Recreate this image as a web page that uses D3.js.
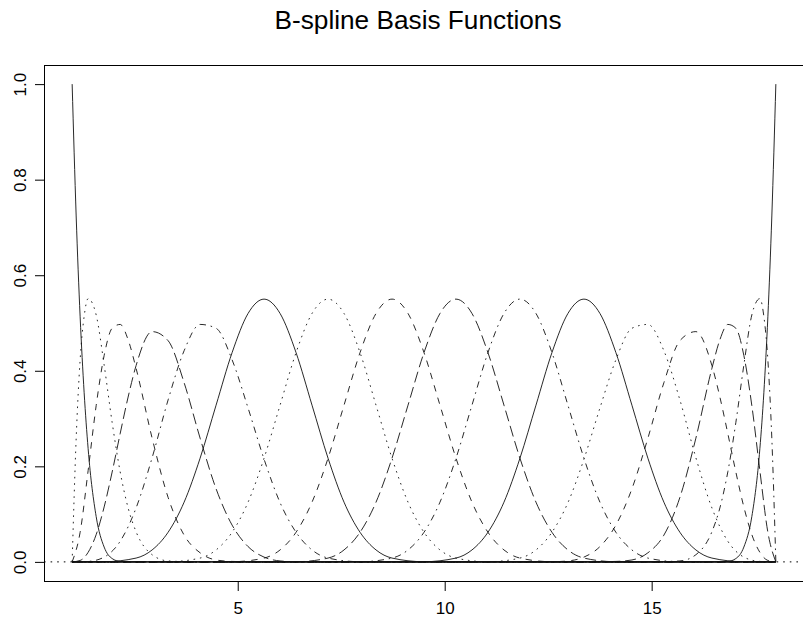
<!DOCTYPE html>
<html>
<head>
<meta charset="utf-8">
<script src="https://cdn.jsdelivr.net/npm/d3@7"></script>
<style>
    body { margin: 0; background: #fff; }
    svg { display: block; }
    text { font-family: "Liberation Sans", Arial, Helvetica, sans-serif; fill: #000; }
</style>
</head>
<body>
<div id="chart"></div>
<script>
// Basis values, one [x, y] list per curve (zero outside its span)
var basis1 = [[1.000, 1.000], [1.097, 0.724], [1.193, 0.513], [1.290, 0.354], [1.386, 0.237], [1.580, 0.095],
    [1.773, 0.031], [1.966, 0.007], [2.159, 0.001], [2.545, 0]];
var basis2 = [[1.000, 0], [1.097, 0.258], [1.193, 0.423], [1.290, 0.514], [1.386, 0.551], [1.580, 0.517],
    [1.773, 0.412], [1.966, 0.292], [2.159, 0.189], [2.352, 0.113], [2.545, 0.063], [2.932, 0.015],
    [3.318, 0.002], [4.091, 0]];
var basis3 = [[1.000, 0], [1.193, 0.062], [1.386, 0.191], [1.580, 0.327], [1.773, 0.432], [1.966, 0.489],
    [2.159, 0.497], [2.352, 0.465], [2.545, 0.405], [2.932, 0.259], [3.318, 0.135], [3.705, 0.056],
    [4.091, 0.019], [4.477, 0.004], [4.864, 0.001], [5.636, 0]];
var basis4 = [[1.000, 0], [1.193, 0.003], [1.386, 0.020], [1.580, 0.057], [1.773, 0.115], [1.966, 0.188],
    [2.159, 0.268], [2.352, 0.345], [2.545, 0.411], [2.932, 0.482], [3.318, 0.463], [3.705, 0.375],
    [4.091, 0.259], [4.477, 0.153], [4.864, 0.077], [5.250, 0.032], [5.636, 0.010], [6.023, 0.002],
    [6.409, 0.0003], [7.182, 0]];
var basis5 = [[1.000, 0], [1.386, 0.001], [1.773, 0.010], [2.159, 0.043], [2.545, 0.113], [2.932, 0.218],
    [3.318, 0.339], [3.705, 0.442], [4.091, 0.497], [4.477, 0.489], [4.864, 0.423], [5.250, 0.322],
    [5.636, 0.215], [6.023, 0.124], [6.409, 0.062], [6.795, 0.025], [7.182, 0.008], [7.955, 0.0003],
    [8.727, 0]];
var basis6 = [[1.000, 0], [1.773, 0.0003], [2.545, 0.008], [2.932, 0.025], [3.318, 0.062], [3.705, 0.125],
    [4.091, 0.217], [4.477, 0.328], [4.864, 0.438], [5.250, 0.520], [5.636, 0.550], [6.023, 0.520],
    [6.409, 0.438], [6.795, 0.328], [7.182, 0.217], [7.568, 0.125], [7.955, 0.062], [8.341, 0.025],
    [8.727, 0.008], [9.500, 0.0003], [10.273, 0]];
var basis7 = [[2.545, 0], [3.318, 0.0003], [4.091, 0.008], [4.477, 0.025], [4.864, 0.062], [5.250, 0.125],
    [5.636, 0.217], [6.023, 0.328], [6.409, 0.438], [6.795, 0.520], [7.182, 0.550], [7.568, 0.520],
    [7.955, 0.438], [8.341, 0.328], [8.727, 0.217], [9.114, 0.125], [9.500, 0.062], [9.886, 0.025],
    [10.273, 0.008], [11.045, 0.0003], [11.818, 0]];
var basis8 = [[4.091, 0], [4.864, 0.0003], [5.636, 0.008], [6.023, 0.025], [6.409, 0.062], [6.795, 0.125],
    [7.182, 0.217], [7.568, 0.328], [7.955, 0.438], [8.341, 0.520], [8.727, 0.550], [9.114, 0.520],
    [9.500, 0.438], [9.886, 0.328], [10.273, 0.217], [10.659, 0.125], [11.045, 0.062], [11.432, 0.025],
    [11.818, 0.008], [12.591, 0.0003], [13.364, 0]];
var basis9 = [[5.636, 0], [6.409, 0.0003], [7.182, 0.008], [7.568, 0.025], [7.955, 0.062], [8.341, 0.125],
    [8.727, 0.217], [9.114, 0.328], [9.500, 0.438], [9.886, 0.520], [10.273, 0.550], [10.659, 0.520],
    [11.045, 0.438], [11.432, 0.328], [11.818, 0.217], [12.205, 0.125], [12.591, 0.062], [12.977, 0.025],
    [13.364, 0.008], [14.136, 0.0003], [14.909, 0]];
var basis10 = [[7.182, 0], [7.955, 0.0003], [8.727, 0.008], [9.114, 0.025], [9.500, 0.062], [9.886, 0.125],
    [10.273, 0.217], [10.659, 0.328], [11.045, 0.438], [11.432, 0.520], [11.818, 0.550], [12.205, 0.520],
    [12.591, 0.438], [12.977, 0.328], [13.364, 0.217], [13.750, 0.125], [14.136, 0.062], [14.523, 0.025],
    [14.909, 0.008], [15.682, 0.0003], [16.455, 0]];
var basis11 = [[8.727, 0], [9.500, 0.0003], [10.273, 0.008], [10.659, 0.025], [11.045, 0.062], [11.432, 0.125],
    [11.818, 0.217], [12.205, 0.328], [12.591, 0.438], [12.977, 0.520], [13.364, 0.550], [13.750, 0.520],
    [14.136, 0.438], [14.523, 0.328], [14.909, 0.217], [15.295, 0.125], [15.682, 0.062], [16.068, 0.025],
    [16.455, 0.008], [17.227, 0.0003], [18.000, 0]];
var basis12 = [[10.273, 0], [11.045, 0.0003], [11.818, 0.008], [12.205, 0.025], [12.591, 0.062], [12.977, 0.124],
    [13.364, 0.215], [13.750, 0.322], [14.136, 0.423], [14.523, 0.489], [14.909, 0.497], [15.295, 0.442],
    [15.682, 0.339], [16.068, 0.218], [16.455, 0.113], [16.841, 0.043], [17.227, 0.010], [17.614, 0.001],
    [18.000, 0]];
var basis13 = [[11.818, 0], [12.591, 0.0003], [12.977, 0.002], [13.364, 0.010], [13.750, 0.032], [14.136, 0.077],
    [14.523, 0.153], [14.909, 0.259], [15.295, 0.375], [15.682, 0.463], [16.068, 0.482], [16.455, 0.411],
    [16.648, 0.345], [16.841, 0.268], [17.034, 0.188], [17.227, 0.115], [17.420, 0.057], [17.614, 0.020],
    [17.807, 0.003], [18.000, 0]];
var basis14 = [[13.364, 0], [14.136, 0.001], [14.523, 0.004], [14.909, 0.019], [15.295, 0.056], [15.682, 0.135],
    [16.068, 0.259], [16.455, 0.405], [16.648, 0.465], [16.841, 0.497], [17.034, 0.489], [17.227, 0.432],
    [17.420, 0.327], [17.614, 0.191], [17.807, 0.062], [18.000, 0]];
var basis15 = [[14.909, 0], [15.682, 0.002], [16.068, 0.015], [16.455, 0.063], [16.648, 0.113], [16.841, 0.189],
    [17.034, 0.292], [17.227, 0.412], [17.420, 0.517], [17.614, 0.551], [17.710, 0.514], [17.807, 0.423],
    [17.903, 0.258], [18.000, 0]];
var basis16 = [[16.455, 0], [16.841, 0.001], [17.034, 0.007], [17.227, 0.031], [17.420, 0.095], [17.614, 0.237],
    [17.710, 0.354], [17.807, 0.513], [17.903, 0.724], [18.000, 1.000]];

var xTicks = [5, 10, 15];
var yTicks = [0, 0.2, 0.4, 0.6, 0.8, 1.0];
var xRange = [1, 18];
var chartTitle = 'B-spline Basis Functions';

// R lty cycle as it shows in the picture: solid, dotted, dashed, long dash, dot-dash
var lineTypes = ['none', '1.6,4.8', '6.4,6.4', '11,4.8', '1.6,4.8,6.4,4.8'];

var bases = [basis1, basis2, basis3, basis4, basis5, basis6, basis7, basis8,
    basis9, basis10, basis11, basis12, basis13, basis14, basis15, basis16];

var width = 803,
    height = 619,
    margin = { left: 44, right: -1, top: 65, bottom: 38 };

var svg = d3.select('#chart').append('svg')
    .attr('width', width)
    .attr('height', height)
    .attr('viewBox', `0 0 ${width} ${height}`);

// R pads each axis range by 4%
var xPad = (xRange[1] - xRange[0]) * 0.04;
var xScale = d3.scaleLinear()
    .domain([xRange[0] - xPad, xRange[1] + xPad])
    .range([margin.left, width - margin.right]);
var yScale = d3.scaleLinear()
    .domain([-0.04, 1.04])
    .range([height - margin.bottom, margin.top]);

// Title
svg.append('text')
    .attr('x', 418)
    .attr('y', 29)
    .attr('text-anchor', 'middle')
    .attr('textLength', 287)
    .attr('lengthAdjust', 'spacingAndGlyphs')
    .style('font-size', '26px')
    .text(chartTitle);

// Reference line at zero, dotted across the whole box
svg.append('line')
    .attr('x1', xScale.range()[0])
    .attr('x2', xScale.range()[1])
    .attr('y1', yScale(0))
    .attr('y2', yScale(0))
    .attr('stroke', '#000')
    .attr('stroke-width', 1)
    .attr('stroke-dasharray', '1.6,5');

// Curves: each drawn over the whole x range, zero outside its span
var line = d3.line()
    .x(function(d) { return xScale(d[0]); })
    .y(function(d) { return yScale(d[1]); })
    .curve(d3.curveMonotoneX);

var curves = bases.map(function(pts) {
    var p = pts.slice();
    if (p[0][0] > xRange[0]) p.unshift([xRange[0], 0]);
    if (p[p.length - 1][0] < xRange[1]) p.push([xRange[1], 0]);
    return p;
});

svg.append('g')
    .attr('class', 'curves')
    .selectAll('path')
    .data(curves)
    .enter().append('path')
    .attr('d', line)
    .attr('fill', 'none')
    .attr('stroke', '#111')
    .attr('stroke-width', 0.9)
    .attr('stroke-dasharray', function(d, i) { return lineTypes[i % lineTypes.length]; });

// Axes
var xAxis = d3.axisBottom(xScale).tickValues(xTicks).tickSize(10).tickFormat(d3.format('d'));
var yAxis = d3.axisLeft(yScale).tickValues(yTicks).tickSize(9).tickFormat(d3.format('.1f'));

var gx = svg.append('g')
    .attr('class', 'axis x')
    .attr('transform', 'translate(0,' + (height - margin.bottom) + ')')
    .call(xAxis);
gx.select('.domain').remove();
gx.selectAll('line').attr('stroke', '#000');
gx.selectAll('text')
    .attr('y', 33)
    .attr('dy', 0)
    .style('font-size', '17px')
    .style('font-family', '"Liberation Sans", Arial, sans-serif');

var gy = svg.append('g')
    .attr('class', 'axis y')
    .attr('transform', 'translate(' + margin.left + ',0)')
    .call(yAxis);
gy.select('.domain').remove();
gy.selectAll('line').attr('stroke', '#000');
gy.selectAll('text')
    .attr('transform', 'rotate(-90)')
    .attr('x', 0)
    .attr('y', -18)
    .attr('dy', 0)
    .attr('text-anchor', 'middle')
    .style('font-size', '17px')
    .style('font-family', '"Liberation Sans", Arial, sans-serif');

// Plot box (right edge falls just outside the picture)
svg.append('rect')
    .attr('x', margin.left + 0.5)
    .attr('y', margin.top + 0.5)
    .attr('width', width - margin.right - margin.left)
    .attr('height', height - margin.bottom - margin.top)
    .attr('fill', 'none')
    .attr('stroke', '#000')
    .attr('stroke-width', 1);
</script>
</body>
</html>
